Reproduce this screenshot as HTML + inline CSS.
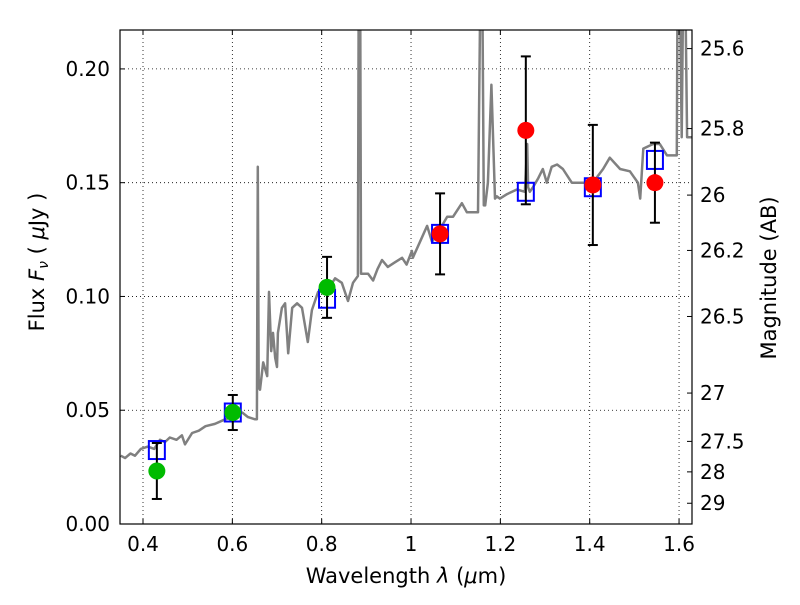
<!DOCTYPE html>
<html><head><meta charset="utf-8"><style>
body{margin:0;background:#fff}
svg text{font-family:"DejaVu Sans","Liberation Sans",sans-serif;fill:#000}
</style></head><body>
<svg id="chart" width="800" height="600" xmlns="http://www.w3.org/2000/svg">
<g id="grid"></g>
<g id="plot"></g>
<g id="axes"></g>
</svg>
<script>
const specLam=[0.35,0.36,0.372,0.382,0.395,0.411,0.425,0.438,0.449,0.46,0.475,0.487,0.494,0.51,0.525,0.54,0.561,0.584,0.6,0.622,0.635,0.651,0.655,0.657,0.659,0.662,0.669,0.678,0.682,0.687,0.691,0.696,0.7,0.702,0.711,0.718,0.725,0.734,0.745,0.756,0.769,0.778,0.792,0.814,0.83,0.845,0.859,0.87,0.881,0.883,0.886,0.888,0.89,0.904,0.915,0.925,0.935,0.948,0.964,0.98,0.99,1.002,1.004,1.02,1.036,1.047,1.06,1.081,1.094,1.114,1.125,1.15,1.156,1.159,1.163,1.166,1.172,1.18,1.188,1.192,1.199,1.215,1.237,1.255,1.26,1.262,1.266,1.273,1.285,1.295,1.304,1.315,1.327,1.34,1.36,1.378,1.407,1.43,1.445,1.468,1.49,1.508,1.513,1.52,1.542,1.557,1.573,1.595,1.597,1.601,1.606,1.61,1.613,1.618,1.629];
const specFlux=[0.030,0.029,0.031,0.030,0.033,0.034,0.033,0.037,0.036,0.038,0.037,0.039,0.035,0.040,0.041,0.043,0.044,0.046,0.047,0.049,0.047,0.046,0.046,0.157,0.060,0.059,0.071,0.065,0.102,0.076,0.084,0.073,0.069,0.084,0.095,0.097,0.075,0.095,0.097,0.095,0.080,0.094,0.102,0.103,0.108,0.106,0.098,0.106,0.109,0.25,0.25,0.110,0.110,0.110,0.107,0.112,0.116,0.113,0.115,0.117,0.114,0.120,0.117,0.124,0.131,0.124,0.128,0.135,0.135,0.141,0.137,0.137,0.25,0.25,0.140,0.140,0.150,0.193,0.143,0.144,0.143,0.145,0.147,0.146,0.167,0.148,0.146,0.148,0.152,0.156,0.150,0.157,0.158,0.156,0.150,0.150,0.150,0.156,0.161,0.156,0.155,0.150,0.143,0.165,0.167,0.167,0.162,0.162,0.25,0.25,0.170,0.25,0.25,0.170,0.170];
const obsLam=[0.431,0.601,0.812,1.065,1.257,1.407,1.546];
const obsFlux=[0.0233,0.049,0.104,0.1275,0.173,0.149,0.150];
const obsErr=[0.0123,0.0077,0.0134,0.0178,0.0325,0.0264,0.0176];
const obsColor=['#00bb00','#00bb00','#00bb00','#ff0000','#ff0000','#ff0000','#ff0000'];
const modelFlux=[0.0325,0.049,0.099,0.1275,0.146,0.148,0.160];
const xTicks=[0.4,0.6,0.8,1,1.2,1.4,1.6];
const xTickLabels=['0.4','0.6','0.8','1','1.2','1.4','1.6'];
const yTicks=[0,0.05,0.10,0.15,0.20];
const yTickLabels=['0.00','0.05','0.10','0.15','0.20'];
const magTicks=[25.6,25.8,26,26.2,26.5,27,27.5,28,29];
const magTickLabels=['25.6','25.8','26','26.2','26.5','27','27.5','28','29'];

const L=120,R=692,T=30,B=524,xMin=0.3485,xMax=1.629,yMin=0,yMax=0.2171;
const X=v=>L+(v-xMin)/(xMax-xMin)*(R-L);
const Y=v=>B-(v-yMin)/(yMax-yMin)*(B-T);
const NS='http://www.w3.org/2000/svg';
function mk(tag,at,parent){const e=document.createElementNS(NS,tag);for(const k in at)e.setAttribute(k,at[k]);parent.appendChild(e);return e;}
const grid=document.getElementById('grid'),plot=document.getElementById('plot'),axes=document.getElementById('axes');

const defs=mk('defs',{},document.getElementById('chart'));
const cp=mk('clipPath',{id:'clip'},defs);mk('rect',{x:L,y:T,width:R-L,height:B-T},cp);
plot.setAttribute('clip-path','url(#clip)');

xTicks.forEach((t,i)=>{
 const g=mk('line',{x1:X(t),x2:X(t),y1:T,y2:B,stroke:'#000','stroke-width':0.8,'stroke-dasharray':'1,3'},grid);
 
 mk('line',{x1:X(t),x2:X(t),y1:B,y2:B-5,stroke:'#000'},axes);
 mk('line',{x1:X(t),x2:X(t),y1:T,y2:T+5,stroke:'#000'},axes);
 const tx=mk('text',{x:X(t),y:B+27,'font-size':20,'text-anchor':'middle'},axes);tx.textContent=xTickLabels[i];
 
});
yTicks.forEach((t,i)=>{
 const g=mk('line',{x1:L,x2:R,y1:Y(t),y2:Y(t),stroke:'#000','stroke-width':0.8,'stroke-dasharray':'1,3'},grid);
 
 mk('line',{x1:L,x2:L+5,y1:Y(t),y2:Y(t),stroke:'#000'},axes);
 const tx=mk('text',{x:L-10,y:Y(t)+7,'font-size':20,'text-anchor':'end'},axes);tx.textContent=yTickLabels[i];
 
});
magTicks.forEach((m,i)=>{
 const f=Math.pow(10,(23.9-m)/2.5);const y=Y(f);
 mk('line',{x1:R-5,x2:R,y1:y,y2:y,stroke:'#000'},axes);
 const tx=mk('text',{x:R+8,y:y+7,'font-size':20},axes);tx.textContent=magTickLabels[i];
 
});

let d='';specLam.forEach((l,i)=>{d+=(i?'L':'M')+X(l).toFixed(1)+','+Y(specFlux[i]).toFixed(1);});
const sp=mk('path',{d:d,fill:'none',stroke:'#808080','stroke-width':2.5,'stroke-linejoin':'round'},plot);


obsLam.forEach((l,i)=>{
 const x=X(l);
 const sq=mk('rect',{x:x-8,y:Y(modelFlux[i])-9,width:16,height:18,fill:'none',stroke:'#0000ff','stroke-width':2},plot);
 
 const y1=Y(obsFlux[i]+obsErr[i]),y2=Y(obsFlux[i]-obsErr[i]);
 const eb=mk('g',{stroke:'#000','stroke-width':2},plot);
 
 mk('line',{x1:x,x2:x,y1:y1,y2:y2},eb);mk('line',{x1:x-5,x2:x+5,y1:y1,y2:y1},eb);mk('line',{x1:x-5,x2:x+5,y1:y2,y2:y2},eb);
 const c=mk('circle',{cx:x,cy:Y(obsFlux[i]),r:8.5,fill:obsColor[i]},plot);
 
});

const fr=mk('rect',{x:L,y:T,width:R-L,height:B-T,fill:'none',stroke:'#000','stroke-width':1.2},axes);

</script>
<div style="position:absolute;left:0;top:0;width:800px;height:600px;pointer-events:none">
<svg width="800" height="600" style="position:absolute;left:0;top:0">
<text x="406" y="583" font-size="21" text-anchor="middle" style="font-family:'DejaVu Sans',sans-serif">Wavelength  <tspan font-style="italic">λ</tspan> (<tspan font-style="italic">μ</tspan>m)</text>
<text transform="translate(44,262) rotate(-90)" font-size="21" text-anchor="middle" style="font-family:'DejaVu Sans',sans-serif">Flux  <tspan font-style="italic">F</tspan><tspan font-style="italic" font-size="14" dy="4">ν</tspan><tspan dy="-4">  ( </tspan><tspan font-style="italic">μ</tspan>Jy )</text>
<text transform="translate(776,278) rotate(-90)" font-size="21" text-anchor="middle" style="font-family:'DejaVu Sans',sans-serif">Magnitude (AB)</text>
</svg></div>
</body></html>
